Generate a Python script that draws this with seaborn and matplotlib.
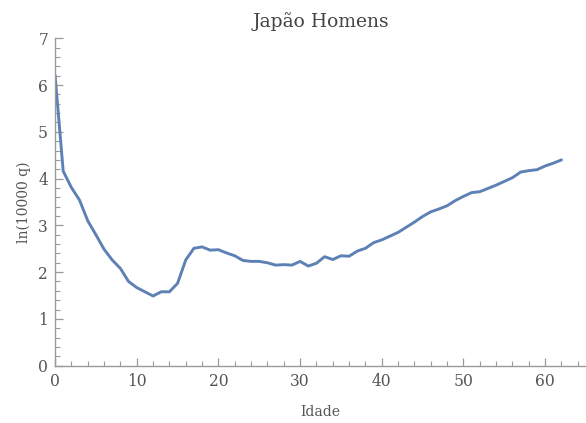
import numpy as np
import pandas as pd
import matplotlib
matplotlib.use("Agg")
import matplotlib.pyplot as plt
from matplotlib.ticker import MultipleLocator
import seaborn as sns

# Log mortality rate ln(10000 q) by age, Japanese men
idade = list(range(0, 63))
ln_q = [6.22, 4.16, 3.81, 3.54, 3.10, 2.80, 2.49, 2.26, 2.08, 1.80,
        1.67, 1.58, 1.49, 1.58, 1.58, 1.76, 2.26, 2.51, 2.54, 2.47,
        2.48, 2.41, 2.35, 2.25, 2.23, 2.23, 2.20, 2.15, 2.16, 2.15,
        2.23, 2.13, 2.19, 2.33, 2.27, 2.35, 2.34, 2.45, 2.51, 2.63,
        2.69, 2.77, 2.85, 2.96, 3.07, 3.19, 3.29, 3.35, 3.42, 3.53,
        3.62, 3.70, 3.72, 3.79, 3.86, 3.94, 4.02, 4.14, 4.17, 4.19,
        4.27, 4.33, 4.40]

titulo = "Japão Homens"
rotulo_x = "Idade"
rotulo_y = "ln(10000 q)"

df = pd.DataFrame({"idade": idade, "ln_q": ln_q})

sns.set_theme(style="ticks")
plt.rcParams["font.family"] = ["DejaVu Serif"]

fig = plt.figure(figsize=(5.86, 4.23), dpi=100)
ax = fig.add_axes([0.0939, 0.1355, 0.9061, 0.774])

sns.lineplot(data=df, x="idade", y="ln_q", ax=ax, color="#5E81B5", linewidth=2.1)

ax.set_xlim(0, 65)
ax.set_ylim(0, 7)
ax.xaxis.set_major_locator(MultipleLocator(10))
ax.xaxis.set_minor_locator(MultipleLocator(2))
ax.yaxis.set_major_locator(MultipleLocator(1))
ax.yaxis.set_minor_locator(MultipleLocator(0.2))

axis_gray = "#9a9a9a"
text_gray = "#555555"
for side in ["top", "right"]:
    ax.spines[side].set_visible(False)
for side in ["left", "bottom"]:
    ax.spines[side].set_color(axis_gray)
    ax.spines[side].set_linewidth(1.0)

ax.tick_params(which="major", direction="in", length=6, width=0.9,
               color=axis_gray, labelcolor=text_gray, labelsize=11.2, pad=5)
ax.tick_params(which="minor", direction="in", length=3.5, width=0.8,
               color=axis_gray)

ax.set_xlabel(rotulo_x, color=text_gray, fontsize=10, labelpad=11)
ax.set_ylabel(rotulo_y, color=text_gray, fontsize=10, labelpad=5)
ax.set_title(titulo, color="#444444", fontsize=13.5, pad=8)

fig.savefig("out.png", dpi=100)
